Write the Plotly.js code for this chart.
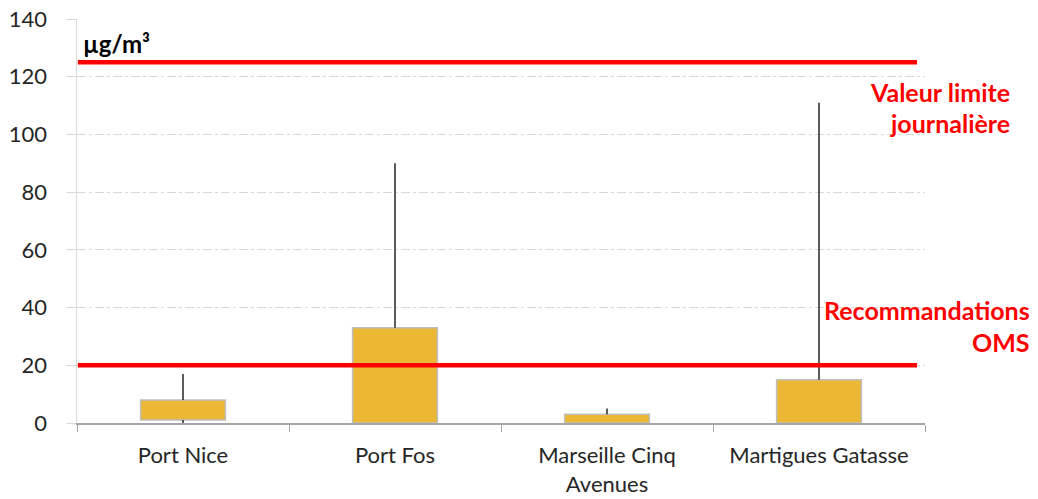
<!DOCTYPE html>
<html>
<head>
<meta charset="utf-8">
<script src="https://cdn.plot.ly/plotly-3.0.1.min.js"></script>
<style>html,body{margin:0;padding:0;background:#fff;}#chart{width:1038px;height:499px;}</style>
</head>
<body>
<div id="chart"></div>
<script>
// Data (µg/m³)
var categories = ["Port Nice", "Port Fos", "Marseille Cinq<br>Avenues", "Martigues Gatasse"];
var minValues  = [0, 0, 0, 0];      // whisker bottom
var boxBase    = [1, 0, 0, 0];      // bar bottom
var boxTop     = [8, 33, 3, 15];    // bar top
var maxValues  = [17, 90, 5, 111];  // whisker top
var limitDaily = 125;               // Valeur limite journalière
var limitOMS   = 20;                // Recommandations OMS
var yTicks     = [0, 20, 40, 60, 80, 100, 120, 140];

var FONT = "Lato, 'Open Sans', sans-serif";

// whisker segments outside the bars
var wx = [], wy = [];
for (var i = 0; i < categories.length; i++) {
  wx.push(categories[i], categories[i], null);
  wy.push(boxTop[i], maxValues[i], null);
  if (minValues[i] < boxBase[i]) {
    wx.push(categories[i], categories[i], null);
    wy.push(minValues[i], boxBase[i], null);
  }
}

var bars = {
  type: "bar",
  x: categories,
  base: boxBase,
  y: boxTop.map(function (t, i) { return t - boxBase[i]; }),
  width: 0.4,
  marker: { color: "#EBB734", line: { color: "#BFBFBF", width: 1.5 } },
  hoverinfo: "skip",
  showlegend: false
};

var whiskers = {
  type: "scatter",
  mode: "lines",
  x: wx,
  y: wy,
  line: { color: "#262626", width: 1.5 },
  hoverinfo: "skip",
  showlegend: false
};

var layout = {
  width: 1038,
  height: 499,
  margin: { l: 77, r: 113, t: 19, b: 76 },
  paper_bgcolor: "#ffffff",
  plot_bgcolor: "#ffffff",
  font: { family: FONT, color: "#404040" },
  xaxis: {
    type: "category",
    tickson: "boundaries",
    ticks: "outside",
    ticklen: 7,
    tickcolor: "#A6A6A6",
    ticklabelstandoff: 12,
    showline: true,
    linecolor: "#A6A6A6",
    linewidth: 1.5,
    showgrid: false,
    tickfont: { size: 22, family: FONT, color: "#262626" },
    fixedrange: true
  },
  yaxis: {
    range: [0, 140],
    tickvals: yTicks,
    ticktext: yTicks.map(String),
    ticks: "outside",
    ticklen: 10,
    tickcolor: "#D9D9D9",
    ticklabelstandoff: 14,
    showline: true,
    linecolor: "#D9D9D9",
    linewidth: 1.5,
    showgrid: true,
    gridcolor: "#D9D9D9",
    griddash: "dashdot",
    gridwidth: 1,
    zeroline: false,
    tickfont: { size: 22, family: FONT, color: "#262626" },
    fixedrange: true
  },
  shapes: [
    { type: "line", xref: "paper", yref: "y", x0: 0.001, x1: 0.9906, y0: limitDaily, y1: limitDaily,
      line: { color: "#FF0000", width: 4.5 }, layer: "above" },
    { type: "line", xref: "paper", yref: "y", x0: 0.001, x1: 0.9906, y0: limitOMS, y1: limitOMS,
      line: { color: "#FF0000", width: 4.5 }, layer: "above" }
  ],
  annotations: [
    { text: "<b>µg/m³</b>", xref: "paper", yref: "paper", x: 0.005, y: 0.939, xanchor: "left", yanchor: "middle",
      showarrow: false, font: { size: 24, family: FONT, color: "#000000" } },
    { text: "<b>Valeur limite</b>", xref: "paper", yref: "paper", x: 1.1026, y: 0.820, xanchor: "right", yanchor: "middle",
      showarrow: false, font: { size: 25, family: FONT, color: "#FF0000" } },
    { text: "<b>journalière</b>", xref: "paper", yref: "paper", x: 1.1026, y: 0.743, xanchor: "right", yanchor: "middle",
      showarrow: false, font: { size: 25, family: FONT, color: "#FF0000" } },
    { text: "<b>Recommandations</b>", xref: "paper", yref: "paper", x: 1.1262, y: 0.280, xanchor: "right", yanchor: "middle",
      showarrow: false, font: { size: 25, family: FONT, color: "#FF0000" } },
    { text: "<b>OMS</b>", xref: "paper", yref: "paper", x: 1.1262, y: 0.200, xanchor: "right", yanchor: "middle",
      showarrow: false, font: { size: 25, family: FONT, color: "#FF0000" } }
  ]
};

Plotly.newPlot("chart", [whiskers, bars], layout, { displayModeBar: false, staticPlot: true });
</script>
</body>
</html>
